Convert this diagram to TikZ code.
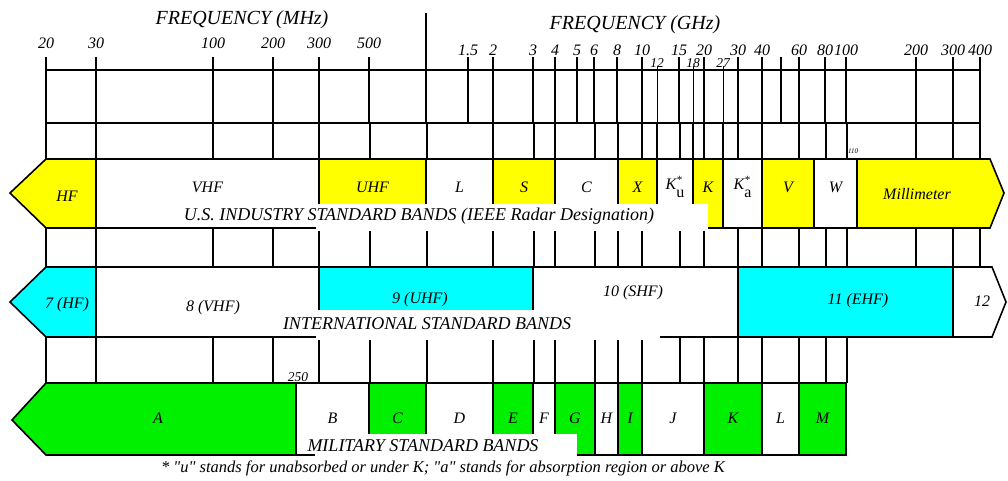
\documentclass[tikz,border=0pt]{standalone}
\usepackage{fontspec}
\setmainfont{Liberation Serif}
\usetikzlibrary{positioning}

\definecolor{bandyellow}{RGB}{255,255,0}
\definecolor{bandcyan}{RGB}{0,255,255}
\definecolor{bandgreen}{RGB}{0,240,0}

\newcommand{\kstar}[1]{K\raisebox{-0.5em}{\shortstack[l]{{\fontsize{11}{8}\selectfont *}\\[4pt]\upshape #1}}}

\tikzset{
  band/.style={draw=black, line width=1.6pt},
  tick/.style={line width=2.4pt},
  thintick/.style={line width=1pt},
  grid/.style={line width=1.3pt},
  head/.style={font=\fontsize{20}{24}\selectfont\itshape, inner sep=0pt},
  ticklbl/.style={font=\fontsize{16}{19}\selectfont\itshape, inner sep=0pt},
  smalllbl/.style={font=\fontsize{13.5}{15}\selectfont\itshape, inner sep=0pt},
  lbl/.style={font=\fontsize{16}{19}\selectfont\itshape, inner sep=0pt},
  title/.style={font=\fontsize{18}{21}\selectfont\itshape, inner sep=0pt},
  cover/.style={fill=white},
}

\begin{document}
\begin{tikzpicture}[x=1pt, y=-1pt, line join=miter]
\useasboundingbox (0,0) rectangle (1008,481);

% --- Frequency scale ---
\node[head] (mhz) at (242,20) {FREQUENCY (MHz)};
\node[head] (ghz) at (635,25) {FREQUENCY (GHz)};
\draw[band] (46,70) -- (980,70);
\draw[band] (46,123) -- (980,123);
\draw[tick] (426,13) -- (426,123);
\foreach \x/\f [count=\i] in {46/20, 96/30, 213/100, 273/200, 319/300, 369/500} {
  \draw[tick] (\x,57) -- (\x,123);
  \node[ticklbl] (mhz-\i) at (\x,43) {\f};
}
\foreach \x/\f [count=\i] in {468/1.5, 493/2, 533/3, 555/4, 577/5, 594/6, 617/8, 642/10,
    679/15, 704/20, 738/30, 762/40, 799/60, 825/80, 846/100, 916/200, 953/300, 980/400} {
  \draw[tick] (\x,57) -- (\x,123);
  \node[ticklbl] (ghz-\i) at (\x,50) {\f};
}
\foreach \x/\f [count=\i] in {657/12, 693/18, 723/27} {
  \draw[thintick] (\x,66) -- (\x,123);
  \node[smalllbl] (ghzsub-\i) at (\x,63) {\f};
}
\draw[tick] (781,57) -- (781,123);

% --- Grid lines between the rows ---
\foreach \x in {46,96,213,273,319,370,427,493,534,555,595,618,642,657,680,693,704,723,738,762,799,826,847,916,953,980}
  \draw[grid] (\x,123) -- (\x,159);
\foreach \x in {46,96,213,273,319,370,427,493,534,555,595,618,642,680,704,738,762,799,826,847,916,953,980}
  \draw[grid] (\x,228) -- (\x,267);
\foreach \x in {46,96,213,273,319,370,427,493,534,555,595,618,642,680,704,738,762,799,826,847}
  \draw[grid] (\x,337) -- (\x,383);

% --- U.S. industry bands ---
\draw[band, fill=bandyellow] (46,159) -- (10,193) -- (46,228) -- (96,228) -- (96,159) -- cycle;
\node[lbl] (us-hf) at (67,196) {HF};
\foreach \a/\b/\c/\t [count=\i] in {96/319/white/VHF, 319/426/bandyellow/UHF, 426/493/white/L,
    493/555/bandyellow/S, 555/618/white/C, 618/657/bandyellow/X, 657/693/white/\kstar{u},
    693/723/bandyellow/K, 723/762/white/\kstar{a}, 762/814/bandyellow/V, 814/857/white/W} {
  \draw[band, fill=\c] (\a,159) rectangle (\b,228);
  \node[lbl] (us-\i) at ({(\a+\b)/2},187) {\t};
}
\draw[band, fill=bandyellow] (857,159) -- (990,159) -- (1004,193) -- (990,228) -- (857,228) -- cycle;
\node[lbl] (us-mm) at (917,194) {Millimeter};
\node[font=\fontsize{7}{8}\selectfont\itshape, inner sep=0pt] (us-110) at (853,151) {110};
\fill[cover] (316,204) rectangle (708,231);
\node[title] (us-title) at (419,216) {U.S. INDUSTRY STANDARD BANDS (IEEE Radar Designation)};

% --- International bands ---
\draw[band, fill=bandcyan] (46,267) -- (10,302) -- (46,337) -- (96,337) -- (96,267) -- cycle;
\node[lbl] (int-7) at (67,305) {7 (HF)};
\draw[band, fill=white] (96,267) rectangle (319,337);
\node[lbl] (int-8) at (213,308) {8 (VHF)};
\draw[band, fill=bandcyan] (319,267) rectangle (533,337);
\node[lbl] (int-9) at (420,300) {9 (UHF)};
\draw[band, fill=white] (533,267) rectangle (738,337);
\node[lbl] (int-10) at (633,293) {10 (SHF)};
\draw[band, fill=bandcyan] (738,267) rectangle (953,337);
\node[lbl] (int-11) at (858,301) {11 (EHF)};
\draw[band, fill=white] (953,267) -- (992,267) -- (1006,302) -- (992,337) -- (953,337) -- cycle;
\node[lbl] (int-12) at (982,301) {12};
\fill[cover] (316,310) rectangle (660,340);
\node[title] (int-title) at (427,324) {INTERNATIONAL STANDARD BANDS};

% --- Military bands ---
\draw[band, fill=bandgreen] (46,383) -- (12,420) -- (46,455) -- (296,455) -- (296,383) -- cycle;
\node[lbl] (mil-a) at (158,418) {A};
\foreach \a/\b/\c/\t [count=\i] in {296/369/white/B, 369/426/bandgreen/C, 426/493/white/D,
    493/533/bandgreen/E, 533/555/white/F, 555/595/bandgreen/G, 595/618/white/H,
    618/642/bandgreen/I, 642/704/white/J, 704/762/bandgreen/K, 762/799/white/L, 799/846/bandgreen/M} {
  \draw[band, fill=\c] (\a,383) rectangle (\b,455);
  \node[lbl] (mil-\i) at ({(\a+\b)/2},418) {\t};
}
\node[smalllbl] (mil-250) at (298,377) {250};
\fill[cover] (315,434) rectangle (577,458);
\node[title] (mil-title) at (423,446) {MILITARY STANDARD BANDS};

% --- Footnote ---
\node[font=\fontsize{16.5}{18}\selectfont\itshape, inner sep=0pt] (note) at (443,468)
  {* \textquotedbl u\textquotedbl{} stands for unabsorbed or under K; \textquotedbl a\textquotedbl{} stands for absorption region or above K};

\end{tikzpicture}
\end{document}
